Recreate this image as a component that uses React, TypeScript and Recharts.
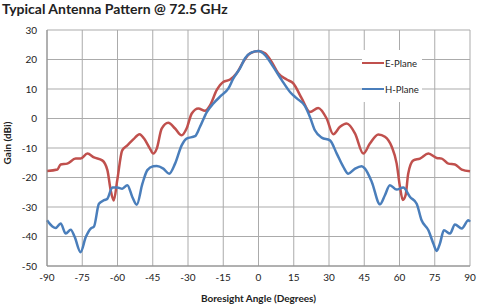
import { LineChart, Line, XAxis, YAxis, CartesianGrid, Legend } from "recharts";

// E-plane cut: boresight angle (deg) / gain (dBi)
const E_ANGLE = [
  -90, -85.6, -84.2, -81.4, -77.8, -75.7, -72.8, -70, -66.5, -64.3, -62.9, -61.6, -60.1, -58, -55.8,
  -53.3, -50.6, -48.7, -46.2, -44.8, -43.3, -41.2, -38.4, -35.5, -32.7, -30.6, -28.4, -25.6, -22.8,
  -20.6, -17.8, -15, -12.1, -9.3, -6.5, -3.6, 0, 2.8, 5.6, 8.4, 12, 14.8, 18.4, 21.9, 25.4, 29, 31.8,
  34.7, 37.5, 41.1, 44.6, 47.4, 51, 53.8, 56.7, 58.8, 60.2, 61.4, 62.6, 63.7, 65.9, 68.7, 72.3, 75.8,
  78, 80.8, 83.6, 86.5, 90,
];
const E_GAIN = [
  -17.8, -17.3, -15.6, -15.3, -13.6, -13.6, -11.9, -13.2, -14.2, -17.5, -24.3, -27.8, -20.9, -10.8, -9.1,
  -7.1, -5.3, -6.8, -10.2, -11.9, -10.2, -3.4, -1.4, -3.4, -5.7, -3.4, 1.7, 3.4, 2.6,
  4.5, 9.6, 12.4, 13.2, 15.3, 19.2, 22.1, 22.9, 22.1, 19.2, 15.3, 13.2, 11.9, 6.8, 2.2, 3.6, 0, -5.3,
  -2.8, -1.7, -5.1, -11.9, -8.5, -5.4, -6.2, -9.6, -15.3, -23.2, -27.6, -26.0, -18.7, -14.2, -13.6, -11.9, -13.4,
  -13.6, -15.3, -15.6, -17.3, -17.9,
];

// H-plane cut
const H_ANGLE = [
  -90, -87.7, -86.3, -84.2, -82, -79.9, -78.2, -75.7, -73.5, -71.4, -70, -67.9, -65.7, -64.3, -62.2,
  -60.1, -58, -55.8, -53.7, -51.8, -49.4, -47.3, -44.8, -43.3, -40.5, -38, -35.5, -32.7, -30.6, -27,
  -24.9, -22, -19.2, -15.7, -12.8, -10.7, -7.9, -5.7, -2.9, 0, 2.8, 6.3, 9.9, 13.4, 16.3, 19.8, 21.9,
  24, 26.9, 30.4, 33.3, 36.1, 38.2, 41.1, 43.9, 45.3, 48.2, 51.7, 53.8, 55.9, 58.8, 61.6, 64.5, 67.3,
  69.4, 72.3, 74.4, 75.8, 77.2, 78.9, 81.5, 83.6, 86.5, 89.3, 90,
];
const H_GAIN = [
  -34.5, -36.6, -37.1, -35.6, -39.0, -37.7, -40.2, -45.3, -40.2, -37.3, -36.6, -28.9, -27.7, -27.2, -23.4,
  -23.4, -23.8, -22.6, -26.6, -29.2, -22.1, -17.5, -16.2, -16.1, -17.0, -18.7, -15.3, -9.1, -6.8, -6.0,
  -2.8, 2.2, 5.1, 7.9, 10.2, 13.6, 17.0, 20.4, 22.4, 22.9, 21.5, 17.5, 13.0, 9.0, 6.8, 4.2, 0.5,
  -4.0, -6.5, -7.4, -11.9, -16.4, -18.7, -17.0, -16.2, -17.0, -21.5, -29.1, -26.0, -22.6, -24.1, -23.4, -26.6, -28.9,
  -34.5, -37.9, -42.4, -44.9, -42.4, -37.9, -39.0, -35.9, -37.3, -34.5, -35.0,
];

const X_TICKS = [-90, -75, -60, -45, -30, -15, 0, 15, 30, 45, 60, 75, 90];
const Y_TICKS = [-50, -40, -30, -20, -10, 0, 10, 20, 30];
const X_MINOR = [-90, -85, -80, -75, -70, -65, -60, -55, -50, -45, -40, -35, -30, -25, -20, -15, -10, -5, 0, 5, 10, 15, 20, 25, 30, 35, 40, 45, 50, 55, 60, 65, 70, 75, 80, 85, 90];
const Y_MINOR = [-50, -48, -46, -44, -42, -40, -38, -36, -34, -32, -30, -28, -26, -24, -22, -20, -18, -16, -14, -12, -10, -8, -6, -4, -2, 0, 2, 4, 6, 8, 10, 12, 14, 16, 18, 20, 22, 24, 26, 28, 30];

const eData = E_ANGLE.map((angle, i) => ({ angle, gain: E_GAIN[i] }));
const hData = H_ANGLE.map((angle, i) => ({ angle, gain: H_GAIN[i] }));

const RED = "#C0504D";
const BLUE = "#4A7EBB";
const FONT = "Lato, 'Open Sans', sans-serif";
const tickStyle = { fontSize: 10, fill: "#222", fontFamily: FONT };

const LegendBox = ({ payload }: any) => (
  <div style={{ fontFamily: FONT, fontSize: 9.5, color: "#222", background: "#fff", display: "inline-block" }}>
    {(payload || []).map((p: any) => (
      <div key={p.value} style={{ display: "flex", alignItems: "center", height: 26, paddingRight: 3 }}>
        <span style={{ width: 22, height: 2.5, background: p.color, display: "inline-block" }} />
        <span style={{ marginLeft: 1 }}>{p.value}</span>
      </div>
    ))}
  </div>
);

export default function App() {
  return (
    <div style={{ position: "absolute", left: 0, top: 0, width: 481, height: 307, background: "#fff" }}>
      <div
        style={{
          position: "absolute",
          left: 2,
          top: 0,
          fontFamily: FONT,
          fontWeight: 700,
          fontSize: 14,
          color: "#222",
          whiteSpace: "nowrap",
        }}
      >
        Typical Antenna Pattern @ 72.5 GHz
      </div>
      <LineChart width={481} height={307} margin={{ top: 30, right: 11, bottom: 0, left: 0 }}>
        <CartesianGrid
          xAxisId="main"
          yAxisId="main"
          stroke="#ababab"
          strokeWidth={1}
          verticalValues={X_TICKS}
          horizontalValues={Y_TICKS}
        />
        <XAxis
          xAxisId="main"
          type="number"
          dataKey="angle"
          domain={[-90, 90]}
          ticks={X_TICKS}
          allowDuplicatedCategory={false}
          height={41}
          tickSize={0}
          tickMargin={8}
          tick={tickStyle}
          axisLine={{ stroke: "#8c8c8c" }}
          label={{
            value: "Boresight Angle (Degrees)",
            position: "insideBottom",
            offset: 5,
            style: { fontFamily: FONT, fontSize: 10, fontWeight: 700, fill: "#222" },
          }}
        />
        <XAxis
          xAxisId="minor"
          type="number"
          dataKey="angle"
          domain={[-90, 90]}
          ticks={X_MINOR}
          orientation="bottom"
          mirror
          tick={false}
          tickSize={3}
          axisLine={false}
          tickLine={{ stroke: "#8c8c8c" }}
          height={0}
        />
        <YAxis
          yAxisId="main"
          type="number"
          domain={[-50, 30]}
          ticks={Y_TICKS}
          width={47}
          tickSize={0}
          tickMargin={10}
          tick={tickStyle}
          axisLine={{ stroke: "#8c8c8c" }}
          label={{
            value: "Gain (dBi)",
            angle: -90,
            position: "insideLeft",
            offset: 7,
            dy: -5,
            style: { fontFamily: FONT, fontSize: 10, fontWeight: 700, fill: "#222", textAnchor: "middle" },
          }}
        />
        <YAxis
          yAxisId="minor"
          type="number"
          domain={[-50, 30]}
          ticks={Y_MINOR}
          mirror
          width={0}
          tick={false}
          tickSize={3}
          axisLine={false}
          tickLine={{ stroke: "#8c8c8c" }}
        />
        {/* centred/middle placement keeps the legend from reserving chart margin */}
        <Legend
          verticalAlign="middle"
          align="center"
          layout="vertical"
          content={<LegendBox />}
          wrapperStyle={{ position: "absolute", left: 362, top: 50, width: 70 }}
        />
        <Line
          xAxisId="main"
          yAxisId="main"
          data={eData}
          dataKey="gain"
          name="E-Plane"
          type="monotone"
          stroke={RED}
          strokeWidth={2.5}
          dot={false}
          isAnimationActive={false}
        />
        <Line
          xAxisId="main"
          yAxisId="main"
          data={hData}
          dataKey="gain"
          name="H-Plane"
          type="monotone"
          stroke={BLUE}
          strokeWidth={2.5}
          dot={false}
          isAnimationActive={false}
        />
      </LineChart>
    </div>
  );
}
